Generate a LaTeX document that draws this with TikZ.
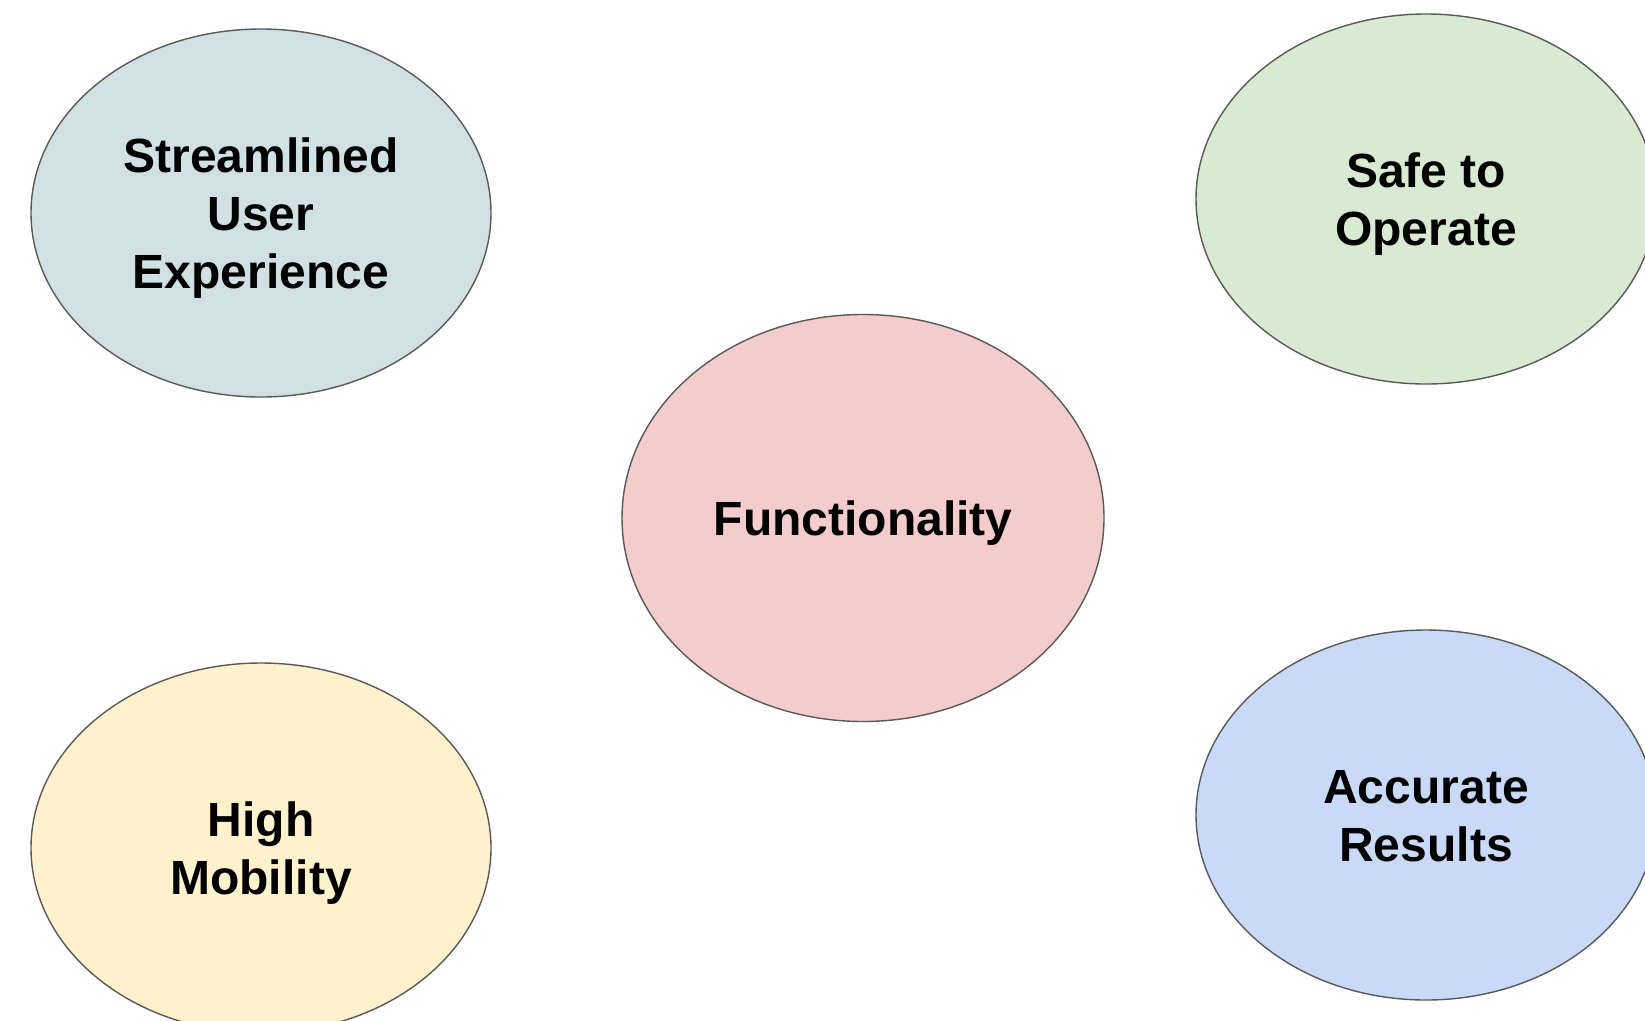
\documentclass[tikz,border=0pt]{standalone}
\usepackage{fontspec}
\setmainfont{Liberation Sans}
\usetikzlibrary{shapes.geometric}
\definecolor{cteal}{HTML}{D0E0E3}
\definecolor{cgreen}{HTML}{D9EAD3}
\definecolor{cred}{HTML}{F4CCCC}
\definecolor{cyellow}{HTML}{FFF2CC}
\definecolor{cblue}{HTML}{C9DAF8}
\definecolor{cedge}{HTML}{595959}
\newcommand{\bubbletext}[1]{\raisebox{-5.5pt}[\height][\depth]{\begin{tabular}{@{}c@{}}#1\end{tabular}}}
\tikzset{
  bubble/.style={ellipse, draw=cedge, line width=1.4pt, inner sep=0pt,
    font=\fontsize{48}{58}\selectfont\bfseries, text=black}
}
\begin{document}
\begin{tikzpicture}[x=1pt,y=-1pt]
\useasboundingbox (0,0) rectangle (1645,1020);
\node[bubble, fill=cteal, minimum width=460pt, minimum height=368pt] (ux) at (261,213)
  {\bubbletext{Streamlined\\User\\Experience}};
\node[bubble, fill=cgreen, minimum width=460pt, minimum height=370pt] (safe) at (1426,199)
  {\bubbletext{Safe to\\Operate}};
\node[bubble, fill=cred, minimum width=482pt, minimum height=407pt] (func) at (863,518)
  {\bubbletext{Functionality}};
\node[bubble, fill=cyellow, minimum width=460pt, minimum height=370pt] (mob) at (261,848)
  {\bubbletext{High\\Mobility}};
\node[bubble, fill=cblue, minimum width=460pt, minimum height=370pt] (acc) at (1426,815)
  {\bubbletext{Accurate\\Results}};
\end{tikzpicture}
\end{document}
